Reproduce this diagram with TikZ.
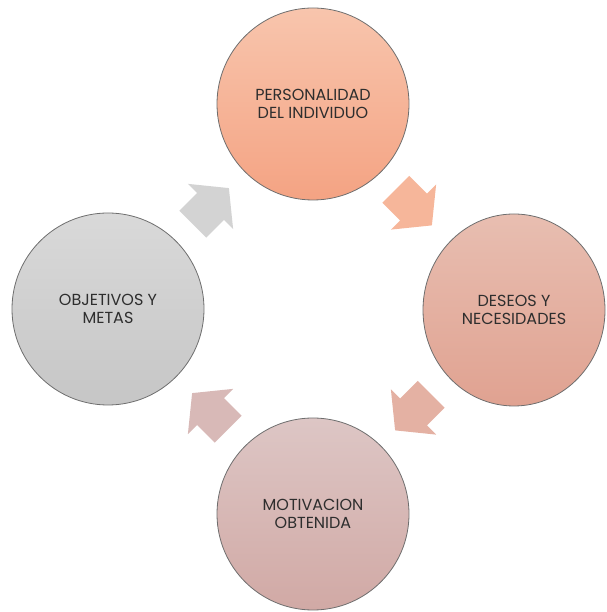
\documentclass[tikz,border=0pt]{standalone}
\usepackage{fontspec}
\setmainfont{Poppins}
\usepackage{tikz}
\usetikzlibrary{arrows.meta,positioning,calc,shapes.geometric}
\usepackage{xcolor}
\definecolor{persTop}{HTML}{F8C5AD}
\definecolor{persBot}{HTML}{F4A383}
\definecolor{desTop}{HTML}{E8BEB1}
\definecolor{desBot}{HTML}{E0A291}
\definecolor{motTop}{HTML}{DDC6C5}
\definecolor{motBot}{HTML}{D1A9A5}
\definecolor{objTop}{HTML}{D9D9D9}
\definecolor{objBot}{HTML}{C6C6C6}
\definecolor{edgegray}{HTML}{6E6E6E}
\definecolor{textgray}{HTML}{2E2E2E}

\begin{document}
\begin{tikzpicture}[x=1pt, y=1pt,
  stage/.style={circle, minimum size=192pt, inner sep=0pt, draw=edgegray,
    line width=0.8pt, text=textgray, align=center,
    font=\fontsize{16}{18}\selectfont},
  cyclearrow/.pic={\path[pic actions] (-25,-19) -- (0,-19) -- (0,-32) -- (26,0)
    -- (0,32) -- (0,19) -- (-25,19) -- cycle;}]
  \useasboundingbox (0,0) rectangle (606,612);

  % Define nodes
  \node (pers) [stage, top color=persTop, bottom color=persBot] at (313,508)
    {PERSONALIDAD\\DEL INDIVIDUO};
  \node (des) [stage, ellipse, minimum width=182pt, minimum height=192pt,
    top color=desTop, bottom color=desBot] at (514,302) {DESEOS Y\\NECESIDADES};
  \node (mot) [stage, top color=motTop, bottom color=motBot] at (313,98)
    {MOTIVACION\\OBTENIDA};
  \node (obj) [stage, top color=objTop, bottom color=objBot] at (108,303)
    {OBJETIVOS Y\\METAS};

  % Draw arrows
  \pic [fill=persTop!55!persBot, rotate=-45] at ($(pers)!0.5!(des)$) {cyclearrow};
  \pic [fill=desTop!55!desBot, rotate=-135] at ($(des)!0.5!(mot)$) {cyclearrow};
  \pic [fill=motTop!55!motBot, rotate=135] at ($(mot)!0.5!(obj)$) {cyclearrow};
  \pic [fill=objTop!70!objBot, rotate=45] at ($(obj)!0.5!(pers)$) {cyclearrow};
\end{tikzpicture}
\end{document}
